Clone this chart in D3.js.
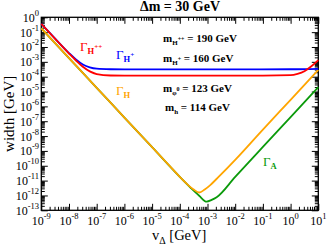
<!DOCTYPE html>
<html>
<head>
<meta charset="utf-8">
<script src="https://cdn.jsdelivr.net/npm/d3@7/dist/d3.min.js"></script>
<style>
  body { margin: 0; background: #fff; }
  text { font-family: "Liberation Serif", "DejaVu Serif", serif; }
</style>
</head>
<body>
<div id="chart"></div>
<script>
// v_Delta (log10 GeV) and widths (log10 GeV)
const redLogV   = [-9, -8.5, -8, -7.75, -7.5, -7.25, -7, -6.5, -6, -4, -2, -1, 0, 0.25, 0.5, 0.75, 1];
const redLogW   = [-0.45, -1.45, -2.44, -2.91, -3.33, -3.64, -3.82, -3.92, -3.93, -3.93, -3.93, -3.93, -3.9, -3.81, -3.63, -3.3, -2.88];
const blueLogV  = [-9, -8.5, -8, -7.75, -7.5, -7.25, -7, -6.5, -6, -4, -2, 0, 1];
const blueLogW  = [-0.45, -1.44, -2.41, -2.84, -3.18, -3.37, -3.46, -3.5, -3.51, -3.51, -3.51, -3.5, -3.47];
const orangeLogV = [-9, -8, -7, -6, -5, -4.3, -4, -3.7, -3.5, -3.3, -3.1, -2.9, -2.6, -2, -1, 0, 1];
const orangeLogW = [-0.75, -2.75, -4.75, -6.75, -8.75, -10.15, -10.75, -11.3, -11.6, -11.8, -11.6, -11.3, -10.75, -9.6, -7.56, -5.56, -3.55];
const greenLogV = [-9, -8, -7, -6, -5, -4, -3.6, -3.3, -3.03, -2.85, -2.67, -2, -1, 0, 1];
const greenLogW = [-0.75, -2.75, -4.75, -6.75, -8.75, -10.75, -11.5, -12.02, -12.42, -12.3, -12.12, -10.75, -8.73, -6.72, -4.71];

const xExponents = d3.range(-9, 2);   // 10^-9 .. 10^1
const yExponents = d3.range(-13, 1);  // 10^-13 .. 10^0

const width = 327, height = 247;
const margin = { top: 17.3, right: 8.7, bottom: 36.7, left: 41.3 };

const svg = d3.select('#chart').append('svg')
    .attr('width', width)
    .attr('height', height);

const x = d3.scaleLog()
    .domain([1e-9, 10])
    .range([margin.left, width - margin.right]);
const y = d3.scaleLog()
    .domain([1e-13, 1])
    .range([height - margin.bottom, margin.top]);

// major and minor tick values
const xMajor = xExponents.map(e => Math.pow(10, e));
const yMajor = yExponents.map(e => Math.pow(10, e));
const minorOf = exps => exps.slice(0, -1).flatMap(e => d3.range(2, 10).map(k => k * Math.pow(10, e)));
const xMinor = minorOf(xExponents);
const yMinor = minorOf(yExponents);

const x0 = margin.left, x1 = width - margin.right;
const y0 = height - margin.bottom, y1 = margin.top;

// inward ticks on all four sides
const addAxis = (axis, tx, ty) => svg.append('g')
    .attr('transform', `translate(${tx},${ty})`)
    .call(axis)
    .call(g => g.select('.domain').remove())
    .call(g => g.selectAll('text').remove())
    .call(g => g.selectAll('line').attr('stroke', '#000').attr('stroke-width', 1));

[[xMinor, 3.5], [xMajor, 6.5]].forEach(([vals, len]) => {
    addAxis(d3.axisBottom(x).tickValues(vals).tickSize(-len), 0, y0);
    addAxis(d3.axisTop(x).tickValues(vals).tickSize(-len), 0, y1);
});
[[yMinor, 3.5], [yMajor, 6.5]].forEach(([vals, len]) => {
    addAxis(d3.axisLeft(y).tickValues(vals).tickSize(-len), x0, 0);
    addAxis(d3.axisRight(y).tickValues(vals).tickSize(-len), x1, 0);
});

// frame
svg.append('rect')
    .attr('x', x0).attr('y', y1)
    .attr('width', x1 - x0).attr('height', y0 - y1)
    .attr('fill', 'none')
    .attr('stroke', '#000')
    .attr('stroke-width', 1.3);

// tick labels 10^n
svg.append('g')
    .selectAll('text')
    .data(xExponents)
    .join('text')
    .attr('x', e => x(Math.pow(10, e)))
    .attr('y', y0 + 14.5)
    .attr('text-anchor', 'middle')
    .attr('font-size', 12)
    .call(t => t.append('tspan').text('10'))
    .call(t => t.append('tspan')
        .attr('font-size', 8.5)
        .attr('dy', -6)
        .text(e => e));

svg.append('g')
    .selectAll('text')
    .data(yExponents)
    .join('text')
    .attr('x', 39)
    .attr('y', e => y(Math.pow(10, e)) + 4.5)
    .attr('text-anchor', 'end')
    .attr('font-size', 12)
    .call(t => t.append('tspan').text('10'))
    .call(t => t.append('tspan')
        .attr('font-size', 8.5)
        .attr('dy', -6)
        .text(e => e));

// axis titles
svg.append('text')
    .attr('transform', `translate(14,${(y0 + y1) / 2}) rotate(-90)`)
    .attr('text-anchor', 'middle')
    .attr('font-size', 15)
    .text('width [GeV]');

svg.append('text')
    .attr('x', 152)
    .attr('y', 240)
    .attr('font-size', 14.5)
    .call(t => t.append('tspan').text('v'))
    .call(t => t.append('tspan').attr('font-size', 10).attr('dy', 4).text('Δ'))
    .call(t => t.append('tspan').attr('dy', -4).text(' [GeV]'));

// title
svg.append('text')
    .attr('x', 180)
    .attr('y', 11)
    .attr('text-anchor', 'middle')
    .attr('font-size', 14)
    .attr('font-weight', 'bold')
    .text('Δm = 30 GeV');

// curves
const line = d3.line()
    .x(d => x(Math.pow(10, d[0])))
    .y(d => y(Math.pow(10, d[1])))
    .curve(d3.curveMonotoneX);

const series = [
    { v: greenLogV, w: greenLogW, color: '#0b9a0b' },
    { v: orangeLogV, w: orangeLogW, color: '#ffa500' },
    { v: blueLogV, w: blueLogW, color: '#0000ff' },
    { v: redLogV, w: redLogW, color: '#ff0000' },
];

svg.append('g')
    .selectAll('path')
    .data(series)
    .join('path')
    .attr('fill', 'none')
    .attr('stroke', d => d.color)
    .attr('stroke-width', 1.8)
    .attr('d', d => line(d.v.map((v, i) => [v, d.w[i]])));

// curve labels
const gammaLabel = (px, py, color, sub, sup) => {
    const t = svg.append('text')
        .attr('x', px).attr('y', py)
        .attr('fill', color)
        .attr('font-size', 13);
    t.append('tspan').text('Γ');
    t.append('tspan').attr('font-size', 8.5).attr('font-weight', 'bold').attr('dy', 3).text(sub);
    if (sup) t.append('tspan').attr('font-size', 7).attr('font-weight', 'bold').attr('dy', -5).text(sup);
};
gammaLabel(80, 51, '#ff0000', 'H', '++');
gammaLabel(116, 59, '#0000ff', 'H', '+');
gammaLabel(116, 95, '#ffa500', 'H');
gammaLabel(263, 166, '#0b9a0b', 'A');

// mass annotations
const massLabel = (px, py, sub, sup, rest) => {
    const t = svg.append('text')
        .attr('x', px).attr('y', py)
        .attr('font-size', 11)
        .attr('font-weight', 'bold');
    t.append('tspan').text('m');
    t.append('tspan').attr('font-size', 7).attr('dy', 3).text(sub);
    if (sup) t.append('tspan').attr('font-size', 6).attr('dy', -4).text(sup);
    t.append('tspan').attr('dy', sup ? 1 : -3).text(rest);
};
massLabel(163, 42, 'H', '++', ' = 190 GeV');
massLabel(163, 62, 'H', '+', ' = 160 GeV');
massLabel(163, 92, 'φ', '0', ' = 123 GeV');
massLabel(165, 111, 'h', null, ' = 114 GeV');
</script>
</body>
</html>
